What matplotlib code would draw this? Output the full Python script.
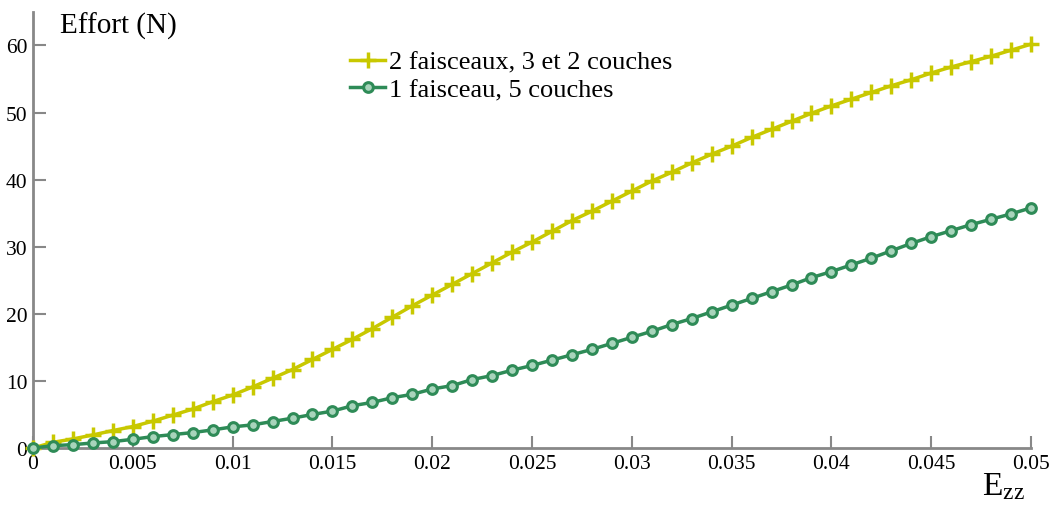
import numpy as np
import matplotlib
matplotlib.use("Agg")
import matplotlib.pyplot as plt
from matplotlib.ticker import FuncFormatter

plt.rcParams['font.family'] = ['Liberation Serif', 'DejaVu Serif']
plt.rcParams['mathtext.fontset'] = 'custom'
plt.rcParams['mathtext.rm'] = 'Liberation Serif'

# strain values, one point every 0.001
ezz = np.arange(51) / 1000.0

# 2 faisceaux, 3 et 2 couches
effort_2f = [0.0, 0.85, 1.35, 1.95, 2.6, 3.2, 4.0, 4.9, 5.8, 6.9,
             7.9, 9.1, 10.4, 11.7, 13.2, 14.7, 16.2, 17.8, 19.5, 21.2,
             22.8, 24.4, 26.0, 27.6, 29.2, 30.7, 32.3, 33.9, 35.3, 36.8,
             38.3, 39.8, 41.1, 42.5, 43.8, 45.0, 46.3, 47.5, 48.7, 49.9,
             51.0, 52.0, 53.0, 54.0, 54.9, 55.9, 56.8, 57.6, 58.4, 59.3,
             60.2]
# 1 faisceau, 5 couches
effort_1f = [0.0, 0.35, 0.5, 0.75, 0.95, 1.3, 1.7, 2.0, 2.3, 2.7,
             3.15, 3.45, 3.95, 4.45, 5.0, 5.5, 6.3, 6.8, 7.5, 8.0,
             8.8, 9.3, 10.2, 10.8, 11.6, 12.3, 13.1, 13.9, 14.7, 15.6,
             16.5, 17.4, 18.4, 19.3, 20.3, 21.3, 22.3, 23.3, 24.3, 25.4,
             26.3, 27.3, 28.3, 29.4, 30.5, 31.5, 32.4, 33.3, 34.1, 34.9,
             35.8]
labels = ['2 faisceaux, 3 et 2 couches', '1 faisceau, 5 couches']

yellow = '#c8c800'
green = '#2e8b57'

fig = plt.figure(figsize=(10.49, 5.10), dpi=100)
ax = fig.add_axes([0.0315, 0.1196, 0.9514, 0.855])

ax.plot(ezz, effort_2f, color=yellow, lw=2.5, marker='+', ms=11, mew=2.5,
        label=labels[0], clip_on=False, zorder=3)
ax.plot(ezz, effort_1f, color=green, lw=2.5, marker='o', ms=7, mew=2.2,
        mfc='#a8d4bb', label=labels[1], clip_on=False, zorder=4)

ax.set_xlim(0, 0.05)
ax.set_ylim(0, 65)
ax.set_xticks(np.arange(0, 0.0501, 0.005))
ax.set_yticks(range(0, 61, 10))
ax.xaxis.set_major_formatter(FuncFormatter(lambda v, p: '%g' % round(v, 4)))

for s in ['top', 'right']:
    ax.spines[s].set_visible(False)
for s in ['left', 'bottom']:
    ax.spines[s].set_color('#888888')
    ax.spines[s].set_linewidth(2)
ax.tick_params(direction='in', length=9, width=1.5, color='#888888',
               labelsize=15.5, pad=4)

ax.text(0.027, 1.0, 'Effort (N)', transform=ax.transAxes, fontsize=21,
        va='top', ha='left')
fig.text(0.936, 0.015, r'$\mathrm{E_{zz}}$', fontsize=24, ha='left', va='bottom')

ax.legend(loc='upper left', bbox_to_anchor=(0.318, 0.912), frameon=False,
          fontsize=19, handlelength=1.3, handletextpad=0.15, borderpad=0,
          borderaxespad=0, labelspacing=0.15)

fig.savefig('out.png', dpi=100)
